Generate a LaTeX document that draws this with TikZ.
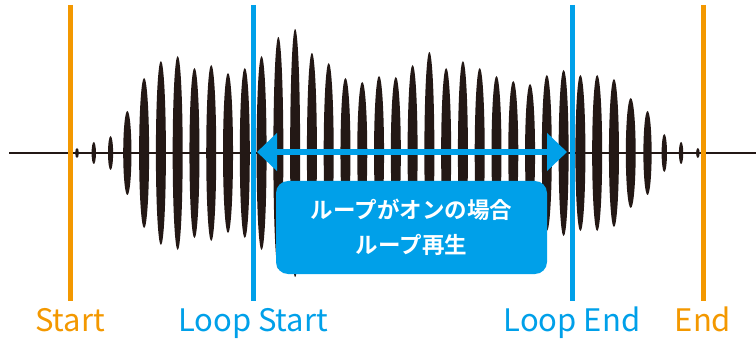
\documentclass[tikz,border=0pt]{standalone}
\usepackage{fontspec}
\usepackage{tikz}
\usetikzlibrary{positioning, arrows.meta}
\newfontfamily\cjk{Noto Sans CJK JP}[BoldFont={Noto Sans CJK JP Bold}]
\definecolor{waveBlack}{HTML}{231815}
\definecolor{markOrange}{HTML}{F39800}
\definecolor{markBlue}{HTML}{00A0E9}

\begin{document}
\begin{tikzpicture}[x=1pt, y=1pt,
  baseline/.style={draw=waveBlack, line width=1.5pt},
  wave/.style={fill=waveBlack},
  marker/.style={line width=5pt},
  marklabel/.style={font=\cjk\fontsize{31}{31}\selectfont, anchor=base},
  looparrow/.style={draw=markBlue, line width=6pt, {Triangle[length=20pt, width=37pt]}-{Triangle[length=20pt, width=37pt]}},
  infobox/.style={fill=markBlue, rounded corners=12pt, text=white, align=center,
    font=\cjk\bfseries\fontsize{22.5}{35}\selectfont}]
  \useasboundingbox (0,0) rectangle (756,338);
  % time axis
  \coordinate (axL) at (9,185);
  \coordinate (axR) at (756,185);
  \draw[baseline] (axL) -- (axR);
  % waveform
  \foreach \h [count=\i from 0] in {5,11,17,42,75,92,97,85,88,80,85,97,116,124,100,90,75,71,77,76,88,101,85,92,85,77,72,69,78,83,78,78,74,55,42,19,11,5}
    \fill[wave] ({77+16.78*\i},185) ellipse ({min(5,1.5+\h/16)} and \h);
  % markers
  \foreach \mx/\mc/\mn/\mtext in {70/markOrange/start/Start, 253/markBlue/lstart/Loop Start, 572/markBlue/lend/Loop End, 703/markOrange/end/End} {
    \coordinate (\mn-top) at (\mx,333);
    \coordinate (\mn-bot) at (\mx,37);
    \draw[marker, \mc] (\mn-top) -- (\mn-bot);
    \node[marklabel, text=\mc] (\mn-lbl) at (\mx,7) {\mtext};
  }
  % loop range
  \coordinate (loopL) at (257,186);
  \coordinate (loopR) at (567,186);
  \draw[looparrow] (loopL) -- (loopR);
  \node[infobox, minimum width=271pt, minimum height=93pt] (info) at (411.5,110.5) {ループがオンの場合\\ループ再生};
\end{tikzpicture}
\end{document}
